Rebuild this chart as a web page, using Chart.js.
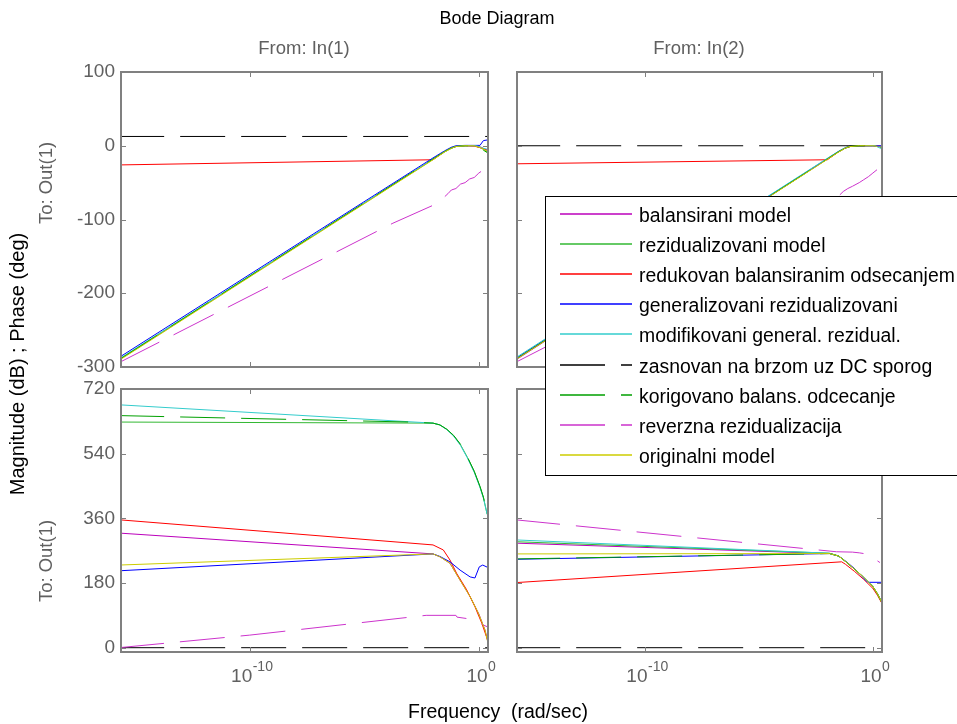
<!DOCTYPE html>
<html>
<head>
<meta charset="utf-8">
<title>Bode Diagram</title>
<script src="https://cdn.jsdelivr.net/npm/chart.js@4.4.1/dist/chart.umd.min.js"></script>
<style>
  body { margin: 0; background: #fff; }
  #wrap { position: relative; width: 957px; height: 724px; overflow: hidden; }
  canvas { position: absolute; left: 0; top: 0; }
</style>
</head>
<body>
<div id="wrap">
  <canvas id="magIn1" width="957" height="724"></canvas>
  <canvas id="phaseIn1" width="957" height="724"></canvas>
  <canvas id="magIn2" width="957" height="724"></canvas>
  <canvas id="phaseIn2" width="957" height="724"></canvas>
</div>
<script>
// ---- data (x = log10 of frequency in rad/sec) ----
const seriesNames = [
  'balansirani model',
  'rezidualizovani model',
  'redukovan balansiranim odsecanjem',
  'generalizovani rezidualizovani',
  'modifikovani general. rezidual.',
  'zasnovan na brzom uz DC sporog',
  'korigovano balans. odcecanje',
  'reverzna rezidualizacija',
  'originalni model'
];
const seriesColors = ['#bb00bb', '#33b833', '#ff0000', '#0000ff', '#33cccc', '#000000', '#00a000', '#cc33cc', '#cccc00'];
const seriesDashed = [false, false, false, false, false, true, true, true, false];

const xMin = -15.62, xMax = 0.4;
const xTickExps = [-10, 0];
const magTicks = [-300, -200, -100, 0, 100];
const phaseTicks = [0, 180, 360, 540, 720];

// magnitude (dB), From: In(1)
const magIn1 = [
  [[-15.7,-290],[-2,-18],[-1.5,-8],[-1.2,-3],[-1,-1],[-0.6,0],[-0.2,0],[0.1,-2],[0.4,-7]],
  [[-15.7,-290],[-2,-18.5],[-1.5,-8.5],[-1.2,-3.5],[-1,-1],[-0.6,0],[-0.2,0],[0.1,-3],[0.4,-9]],
  [[-15.7,-26],[-2,-19],[-1.5,-8],[-1.2,-3],[-1,-1],[-0.6,0],[-0.2,-0.5],[0.1,-3],[0.4,-6]],
  [[-15.7,-287],[-2,-16.5],[-1.5,-7],[-1.2,-2],[-1,0],[-0.6,0.5],[0.05,0.5],[0.2,7],[0.4,8]],
  [[-15.7,-289],[-2,-18],[-1.5,-8],[-1.2,-3],[-1,-1],[-0.6,0],[-0.1,0],[0.15,-3],[0.4,-5]],
  [[-15.7,12.6],[0.4,12.6]],
  [[-15.7,-290],[-2,-18],[-1.5,-8],[-1.2,-3],[-1,-1],[-0.6,0],[-0.2,0],[0.1,-4],[0.4,-10]],
  [[-15.7,-294],[-3.75,-105],[-1.8,-78],[-1.35,-65],[-1.2,-60],[-1.0,-58],[-0.8,-52],[-0.6,-50],[-0.4,-45],[-0.2,-43],[0,-37],[0.23,-32]],
  [[-15.7,-291],[-2,-19],[-1.5,-8.5],[-1.2,-3.5],[-1,-1],[-0.6,0],[-0.2,0],[0.1,-3],[0.4,-8]]
];

// phase (deg), From: In(1)
const phaseIn1 = [
  [[-15.7,319],[-2,261],[-1.7,253],[-1.26,235],[-0.82,188],[-0.38,142],[0,94],[0.27,49],[0.38,20]],
  [[-15.7,628],[-2,625],[-1.7,620],[-1.4,608],[-1.1,590],[-0.8,565],[-0.5,530],[-0.2,490],[0.05,448],[0.2,418],[0.36,372]],
  [[-15.7,356],[-2,286],[-1.55,272],[-1.26,244],[-0.97,207],[-0.53,161],[-0.17,114],[0.13,68],[0.38,22]],
  [[-15.7,214],[-2,261],[-1.7,254],[-1.26,239],[-0.82,216],[-0.38,197],[-0.17,194],[0.02,225],[0.17,230],[0.37,224]],
  [[-15.7,676],[-2,625],[-1.7,620],[-1.4,607],[-1.1,589],[-0.8,563],[-0.5,528],[-0.2,488],[0.05,446],[0.2,416],[0.37,370]],
  [[-15.7,0],[0.4,0]],
  [[-15.7,646],[-3,628],[-2,625],[-1.7,620],[-1.4,608],[-1.1,591],[-0.8,566],[-0.5,531],[-0.2,491],[0.05,449],[0.2,419],[0.36,373]],
  [[-15.7,0],[-10,35],[-2.3,90],[-1.0,90],[-0.95,85],[-0.4,80],[0,70],[0.2,63],[0.38,58]],
  [[-15.7,230],[-2,261],[-1.7,253],[-1.26,235],[-0.82,188],[-0.38,142],[-0.02,96],[0.27,49],[0.38,18]]
];

// magnitude (dB), From: In(2)
const magIn2 = [
  [[-15.7,-291],[-2,-18],[-1.5,-8],[-1.2,-3],[-1,-1],[-0.6,0],[0,0],[0.4,-1]],
  [[-15.7,-290],[-2,-18],[-1.5,-8],[-1.2,-3],[-1,-1],[-0.6,0],[0,0],[0.4,-2]],
  [[-15.7,-24.5],[-2,-19],[-1.5,-8],[-1.2,-3],[-1,-1],[-0.6,0],[0,0],[0.4,-1]],
  [[-15.7,-289],[-2,-17.5],[-1.5,-7.5],[-1.2,-2.5],[-1,-0.5],[-0.6,0],[0.4,0]],
  [[-15.7,-288],[-2,-17],[-1.5,-7.5],[-1.2,-2.5],[-1,-0.5],[-0.6,0],[0.1,0],[0.3,-3],[0.4,-4]],
  [[-15.7,0],[0.4,0]],
  [[-15.7,-290],[-2,-18],[-1.5,-8],[-1.2,-3],[-1,-1],[-0.6,0],[0,0],[0.4,-2]],
  [[-15.7,-294],[-3.75,-105],[-1.8,-77],[-1.3,-62],[-1.1,-58],[-0.9,-55],[-0.6,-50],[-0.4,-46],[-0.2,-42],[0,-37],[0.24,-31]],
  [[-15.7,-290.5],[-2,-18.5],[-1.5,-8.5],[-1.2,-3],[-1,-1],[-0.6,0],[0,0],[0.4,-1.5]]
];

// phase (deg), From: In(2)
const phaseIn2 = [
  [[-15.7,291],[-1.9,262],[-1.5,255],[-1.2,240],[-0.8,218],[-0.4,196],[0,170],[0.2,150],[0.4,125]],
  [[-15.7,295],[-1.9,263],[-1.5,255],[-1.2,240],[-0.8,218],[-0.4,196],[0,170],[0.2,150],[0.4,125]],
  [[-15.7,181],[-1.37,239],[-1.2,232],[-0.8,212],[-0.4,190],[0,165],[0.2,146],[0.4,123]],
  [[-15.7,246],[-1.9,262],[-1.5,255],[-1.2,241],[-0.8,220],[-0.5,200],[-0.3,186],[-0.2,182],[0.4,182]],
  [[-15.7,300],[-1.95,263],[-1.5,255],[-1.2,240],[-0.8,218],[-0.4,196],[0,170],[0.2,150],[0.4,126]],
  [[-15.7,0],[0.4,0]],
  [[-15.7,247],[-1.9,262],[-1.5,255],[-1.2,240],[-0.8,218],[-0.4,196],[0,170],[0.2,150],[0.4,125]],
  [[-15.7,356],[-1.6,267],[-0.9,266],[-0.6,264],[-0.3,261],[0,250],[0.31,237]],
  [[-15.7,261],[-1.9,262],[-1.5,255],[-1.2,240],[-0.8,218],[-0.4,196],[0,170],[0.2,150],[0.4,125]]
];

// ---- layout ----
const W = 957, H = 724;
const family = '"Liberation Sans", Arial, Helvetica, sans-serif';
const grey = '#606060';
const frameColor = '#808080';
const yAxisWidth = 80;

function framePlugin(p) {
  return {
    id: 'frame',
    afterDatasetsDraw(chart) {
      const { ctx, chartArea: a, scales: { x, y } } = chart;
      ctx.save();
      ctx.strokeStyle = frameColor;
      ctx.lineWidth = 1;
      ctx.beginPath();
      p.yTicks.forEach(v => {
        const py = Math.round(y.getPixelForValue(v)) + 0.5;
        ctx.moveTo(a.left, py); ctx.lineTo(a.left + 5, py);
        ctx.moveTo(a.right, py); ctx.lineTo(a.right - 5, py);
      });
      xTickExps.forEach(v => {
        const px = Math.round(x.getPixelForValue(v)) + 0.5;
        ctx.moveTo(px, a.top); ctx.lineTo(px, a.top + 5);
        ctx.moveTo(px, a.bottom); ctx.lineTo(px, a.bottom - 5);
      });
      ctx.stroke();
      ctx.lineWidth = 2;
      ctx.strokeRect(a.left, a.top, a.right - a.left, a.bottom - a.top);

      if (p.xLabels) {
        ctx.fillStyle = grey;
        ctx.textBaseline = 'alphabetic';
        ctx.textAlign = 'left';
        xTickExps.forEach(v => {
          const px = x.getPixelForValue(v);
          const sup = String(v);
          ctx.font = '19px ' + family;
          const wb = ctx.measureText('10').width;
          ctx.font = '14px ' + family;
          const ws = ctx.measureText(sup).width;
          const x0 = px - (wb + ws) / 2 + 2;
          ctx.font = '19px ' + family;
          ctx.fillText('10', x0, a.bottom + 30);
          ctx.font = '14px ' + family;
          ctx.fillText(sup, x0 + wb + 0.5, a.bottom + 19);
        });
      }
      ctx.restore();
    }
  };
}

const textPlugin = {
  id: 'texts',
  afterDraw(chart) {
    const ctx = chart.ctx;
    ctx.save();
    ctx.textAlign = 'center';
    ctx.textBaseline = 'alphabetic';
    ctx.font = '18px ' + family;
    ctx.fillStyle = '#000';
    ctx.fillText('Bode Diagram', 497, 24);
    ctx.font = '19.5px ' + family;
    ctx.fillText('Frequency  (rad/sec)', 498, 718);
    ctx.font = '18.5px ' + family;
    ctx.fillStyle = grey;
    ctx.fillText('From: In(1)', 304, 54);
    ctx.fillText('From: In(2)', 699, 54);

    ctx.textBaseline = 'middle';
    ctx.save();
    ctx.translate(18, 364);
    ctx.rotate(-Math.PI / 2);
    ctx.font = '20px ' + family;
    ctx.fillStyle = '#000';
    ctx.fillText('Magnitude (dB) ; Phase (deg)', 0, 0);
    ctx.restore();
    [183, 561].forEach(cy => {
      ctx.save();
      ctx.translate(47, cy);
      ctx.rotate(-Math.PI / 2);
      ctx.font = '18.5px ' + family;
      ctx.fillStyle = grey;
      ctx.fillText('To: Out(1)', 0, 0);
      ctx.restore();
    });
    ctx.restore();
  }
};

// legend box, drawn last on the top-most canvas so it covers the right-hand panels
const legendPlugin = {
  id: 'legendBox',
  afterDraw(chart) {
    const ctx = chart.ctx;
    const items = chart.data.datasets;
    ctx.save();
    ctx.fillStyle = '#fff';
    ctx.fillRect(545, 196, 430, 279);
    ctx.strokeStyle = '#000';
    ctx.lineWidth = 1;
    ctx.strokeRect(545.5, 196.5, 430, 279);
    ctx.font = '19.4px ' + family;
    ctx.textAlign = 'left';
    ctx.textBaseline = 'alphabetic';
    items.forEach((ds, i) => {
      const ly = Math.round(214 + i * 30.1);
      ctx.strokeStyle = ds.borderColor;
      ctx.lineWidth = 1.3;
      ctx.setLineDash(ds.borderDash.length ? [45, 16] : []);
      ctx.beginPath();
      ctx.moveTo(560, ly);
      ctx.lineTo(632, ly);
      ctx.stroke();
      ctx.setLineDash([]);
      ctx.fillStyle = '#000';
      ctx.fillText(ds.label, 639, ly + 8);
    });
    ctx.restore();
  }
};

function makePanel(p) {
  const [l, t, r, b] = p.area;
  const datasets = p.series.map((pts, i) => ({
    label: seriesNames[i],
    data: pts.map(([x, y]) => ({ x, y })),
    borderColor: seriesColors[i],
    borderWidth: 1,
    borderDash: seriesDashed[i] ? [45, 16] : [],
    pointRadius: 0,
    tension: 0,
    fill: false,
    order: seriesNames.length - i
  }));
  // the y scale keeps a fixed width (afterFit) whether or not it is shown
  const padLeft = l - yAxisWidth;
  return new Chart(document.getElementById(p.id), {
    type: 'line',
    data: { datasets },
    options: {
      responsive: false,
      animation: false,
      events: [],
      layout: { padding: { left: padLeft, top: t, right: W - r, bottom: H - b } },
      plugins: { legend: { display: false }, tooltip: { enabled: false } },
      scales: {
        x: { type: 'linear', min: xMin, max: xMax, display: false },
        y: {
          type: 'linear', min: p.yMin, max: p.yMax,
          afterFit: s => { s.width = yAxisWidth; },
          afterBuildTicks: s => { s.ticks = p.yTicks.map(v => ({ value: v })); },
          ticks: { display: p.yLabels, color: grey, padding: 6, font: { family, size: 19 }, callback: v => String(v) },
          grid: { display: false, drawTicks: false },
          border: { display: false }
        }
      }
    },
    plugins: [framePlugin(p)].concat(p.extra || [])
  });
}

makePanel({ id: 'magIn1', area: [121, 72, 488, 367], yMin: -300, yMax: 100, yTicks: magTicks, series: magIn1, yLabels: true, xLabels: false, extra: [textPlugin] });
makePanel({ id: 'phaseIn1', area: [121, 389, 488, 652], yMin: -12, yMax: 720, yTicks: phaseTicks, series: phaseIn1, yLabels: true, xLabels: true });
makePanel({ id: 'magIn2', area: [517, 72, 882, 367], yMin: -300, yMax: 100, yTicks: magTicks, series: magIn2, yLabels: false, xLabels: false });
makePanel({ id: 'phaseIn2', area: [517, 389, 882, 652], yMin: -12, yMax: 720, yTicks: phaseTicks, series: phaseIn2, yLabels: false, xLabels: true, extra: [legendPlugin] });
</script>
</body>
</html>
